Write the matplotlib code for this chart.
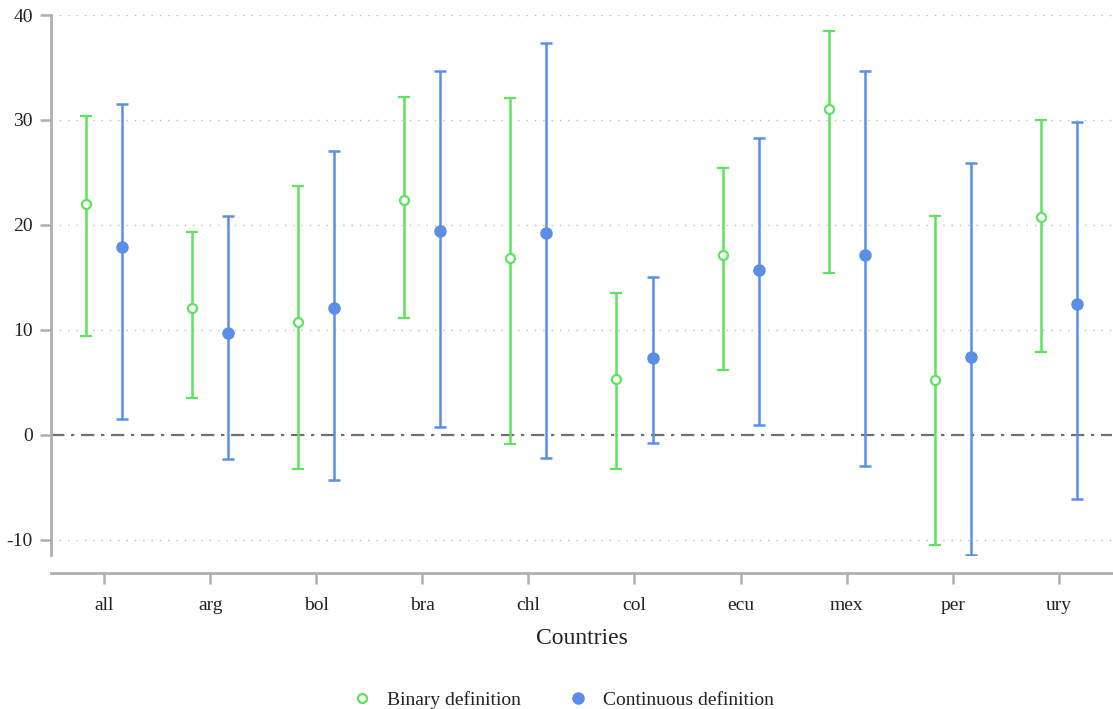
import numpy as np
import matplotlib
matplotlib.use("Agg")
import matplotlib.pyplot as plt
from matplotlib.lines import Line2D

plt.rcParams['font.family'] = ['Liberation Serif', 'DejaVu Serif']
plt.rcParams['axes.unicode_minus'] = False

# estimates and 95% intervals
countries = ["all", "arg", "bol", "bra", "chl", "col", "ecu", "mex", "per", "ury"]

binary_est = [22.0, 12.1, 10.8, 22.4, 16.9, 5.3, 17.1, 31.0, 5.2, 20.8]
binary_lo = [9.4, 3.5, -3.2, 11.1, -0.9, -3.2, 6.2, 15.4, -10.5, 7.9]
binary_hi = [30.4, 19.3, 23.7, 32.2, 32.1, 13.5, 25.4, 38.5, 20.9, 30.0]

cont_est = [17.9, 9.7, 12.05, 19.4, 19.2, 7.3, 15.7, 17.1, 7.4, 12.5]
cont_lo = [1.5, -2.25, -4.25, 0.8, -2.2, -0.8, 0.95, -3.0, -11.4, -6.1]
cont_hi = [31.5, 20.9, 27.05, 34.7, 37.3, 15.0, 28.3, 34.7, 25.9, 29.8]

yticks = [-10, 0, 10, 20, 30, 40]

green = "#5ee35e"
blue = "#5b8ee6"
spine_grey = "#b0b0b0"

fig = plt.figure(figsize=(11.13, 7.09), dpi=100)
ax = fig.add_axes([51/1113, 154/709, 1 - 51/1113 - 0.001, 540/709])

x = np.arange(len(countries))
off = 0.17

# reference lines first so the bars sit on top
for t in yticks:
    if t == 0:
        ax.axhline(t, color="#707070", lw=1.6, ls=(0, (6, 3, 1.5, 3)), zorder=1)
    else:
        ax.axhline(t, color="#bdbdbd", lw=1.0, ls=(0, (1, 5)), zorder=1)

b_est = np.array(binary_est)
c_est = np.array(cont_est)
b_err = [b_est - np.array(binary_lo), np.array(binary_hi) - b_est]
c_err = [c_est - np.array(cont_lo), np.array(cont_hi) - c_est]

ax.errorbar(x - off, b_est, yerr=b_err, fmt="o", color=green, ecolor=green,
            elinewidth=1.8, capsize=4.5, capthick=1.8, markersize=6.5,
            markerfacecolor="white", markeredgewidth=1.6, zorder=3)
ax.errorbar(x + off, c_est, yerr=c_err, fmt="o", color=blue, ecolor=blue,
            elinewidth=1.8, capsize=4.5, capthick=1.8, markersize=8,
            zorder=3)

ax.set_xlim(-0.5, 9.5)
ax.set_ylim(-11.43, 40)
ax.set_xticks(x)
ax.set_xticklabels(countries)
ax.set_yticks(yticks)

for s in ["top", "right"]:
    ax.spines[s].set_visible(False)
ax.spines["left"].set_color(spine_grey)
ax.spines["left"].set_linewidth(2)
ax.spines["bottom"].set_color(spine_grey)
ax.spines["bottom"].set_linewidth(2)
ax.spines["bottom"].set_position(("outward", 13))

ax.tick_params(axis="both", colors=spine_grey, width=1.8, length=8,
               labelsize=14, labelcolor="#222222", pad=5)
ax.tick_params(axis="x", pad=9)

ax.set_xlabel("Countries", fontsize=17, color="#222222", labelpad=10)

handles = [
    Line2D([], [], ls="none", marker="o", color=green, markerfacecolor="white",
           markeredgewidth=1.6, markersize=6.5),
    Line2D([], [], ls="none", marker="o", color=blue, markersize=8),
]
fig.legend(handles, ["Binary definition", "Continuous definition"],
           loc="lower center", bbox_to_anchor=(0.505, -0.024), ncol=2,
           frameon=False, fontsize=14, handlelength=1.2, handletextpad=0.7,
           columnspacing=2.3, labelcolor="#222222")

fig.savefig("out.png", dpi=100)
